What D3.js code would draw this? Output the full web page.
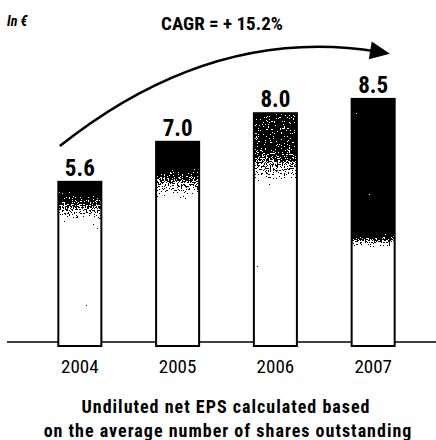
<!DOCTYPE html>
<html>
<head>
<meta charset="utf-8">
<script src="https://cdnjs.cloudflare.com/ajax/libs/d3/7.8.5/d3.min.js"></script>
<style>
  body { margin: 0; background: #fff; }
  text { font-family: Roboto, "DejaVu Sans", sans-serif; font-stretch: condensed; fill: #000; }
</style>
</head>
<body>
<svg width="436" height="440"></svg>
<script>
var years = ["2004", "2005", "2006", "2007"];
var eps = [5.6, 7.0, 8.0, 8.5];
var valueLabels = ["5.6", "7.0", "8.0", "8.5"];

// shading of each bar: grey at the top, px of solid tone, px where it has faded to white
var shade = [
  {top: 0, solid: 4, fade: 48},
  {top: 0, solid: 20, fade: 62},
  {top: 0.28, solid: 36, fade: 82},
  {top: 0, solid: 132, fade: 152}
];

var svg = d3.select("svg"),
    baseY = 342;

var x = d3.scaleBand().domain(years).range([29, 424]).paddingInner(0.56).paddingOuter(0.3);
var y = d3.scaleLinear().domain([0, 10]).range([baseY, baseY - 286]);

var defs = svg.append("defs");

// dither filter: add noise to the grey value then threshold to black/white
var f = defs.append("filter").attr("id", "dither")
    .attr("x", 0).attr("y", 0).attr("width", 1).attr("height", 1)
    .attr("color-interpolation-filters", "sRGB");
f.append("feTurbulence").attr("type", "fractalNoise").attr("baseFrequency", 0.75)
    .attr("numOctaves", 2).attr("seed", 3).attr("result", "noise");
f.append("feColorMatrix").attr("in", "noise").attr("type", "matrix")
    .attr("values", "0 1 0 0 0  0 1 0 0 0  0 1 0 0 0  0 0 0 0 1").attr("result", "gnoise");
f.append("feComposite").attr("in", "SourceGraphic").attr("in2", "gnoise")
    .attr("operator", "arithmetic").attr("k1", 0).attr("k2", 1).attr("k3", 1.3).attr("k4", -0.65)
    .attr("result", "mix");
var ct = f.append("feComponentTransfer").attr("in", "mix");
["feFuncR", "feFuncG", "feFuncB"].forEach(function(fn) {
  ct.append(fn).attr("type", "discrete").attr("tableValues", "0 1");
});

years.forEach(function(yr, i) {
  var h = baseY - y(eps[i]);
  var g = defs.append("linearGradient").attr("id", "grad" + i)
      .attr("x1", 0).attr("y1", 0).attr("x2", 0).attr("y2", 1);
  var t = d3.interpolateRgb("#000", "#fff")(shade[i].top);
  g.append("stop").attr("offset", 0).attr("stop-color", t);
  g.append("stop").attr("offset", shade[i].solid / (h + 4)).attr("stop-color", t);
  g.append("stop").attr("offset", shade[i].fade / (h + 4)).attr("stop-color", "#fff");
  g.append("stop").attr("offset", 1).attr("stop-color", "#fff");
});

// baseline
svg.append("line")
    .attr("x1", 7).attr("x2", 436)
    .attr("y1", baseY).attr("y2", baseY)
    .attr("stroke", "#000").attr("stroke-width", 1.6);

var bar = svg.selectAll(".bar")
  .data(years)
  .enter().append("g")
    .attr("class", "bar");

bar.append("rect")
    .attr("x", function(d) { return x(d); })
    .attr("y", function(d, i) { return y(eps[i]); })
    .attr("width", x.bandwidth())
    .attr("height", function(d, i) { return baseY + 4 - y(eps[i]); })
    .attr("fill", function(d, i) { return "url(#grad" + i + ")"; })
    .attr("filter", "url(#dither)");

bar.append("rect")
    .attr("x", function(d) { return x(d); })
    .attr("y", function(d, i) { return y(eps[i]); })
    .attr("width", x.bandwidth())
    .attr("height", function(d, i) { return baseY + 4 - y(eps[i]); })
    .attr("fill", "none")
    .attr("stroke", "#000")
    .attr("stroke-width", 2);

bar.append("text")
    .attr("x", function(d) { return x(d) + x.bandwidth() / 2; })
    .attr("y", function(d, i) { return y(eps[i]) - 6; })
    .attr("text-anchor", "middle")
    .attr("font-size", 23)
    .attr("font-weight", "bold")
    .text(function(d, i) { return valueLabels[i]; });

// x axis labels
var xAxis = svg.append("g")
    .attr("transform", "translate(0," + (baseY + 31) + ")")
    .call(d3.axisBottom(x).tickSize(0).tickPadding(0));
xAxis.select(".domain").remove();
xAxis.selectAll("text")
    .attr("dy", 0)
    .attr("font-size", 19)
    .attr("fill", "#000")
    .style("font-family", "Roboto, sans-serif")
    .style("font-stretch", "condensed");

// growth arrow, anchored in data units
var cx = function(yr) { return x(yr) + x.bandwidth() / 2; };
var p0 = [cx("2004") - 20, y(6.85)],
    p1 = [cx("2005") + 35, y(11.1)],
    p2 = [cx("2007") + 5, y(10.15)];
svg.append("path")
    .attr("d", "M" + p0 + "Q" + p1 + " " + p2)
    .attr("fill", "none")
    .attr("stroke", "#000")
    .attr("stroke-width", 2.6);
var ang = Math.atan2(p2[1] - p1[1], p2[0] - p1[0]);
var tip = [p2[0] + 12 * Math.cos(ang), p2[1] + 12 * Math.sin(ang)];
var back = [p2[0] - 8 * Math.cos(ang), p2[1] - 8 * Math.sin(ang)];
var nx = -Math.sin(ang), ny = Math.cos(ang);
svg.append("path")
    .attr("d", "M" + tip + "L" + [back[0] + 9 * nx, back[1] + 9 * ny] +
               "L" + [back[0] - 9 * nx, back[1] - 9 * ny] + "Z")
    .attr("fill", "#000");

svg.append("text")
    .attr("x", 222).attr("y", 30)
    .attr("text-anchor", "middle")
    .attr("font-size", 19)
    .attr("font-weight", "bold")
    .text("CAGR = + 15.2%");

svg.append("text")
    .attr("x", 7).attr("y", 26)
    .attr("font-size", 14)
    .attr("font-weight", "bold")
    .attr("font-style", "italic")
    .text("In €");

var foot = svg.append("text")
    .attr("text-anchor", "middle")
    .attr("font-size", 18)
    .attr("font-weight", "bold")
    .attr("letter-spacing", 1);
foot.append("tspan").attr("x", 226).attr("y", 413).text("Undiluted net EPS calculated based");
foot.append("tspan").attr("x", 228).attr("y", 437).text("on the average number of shares outstanding");
</script>
</body>
</html>
